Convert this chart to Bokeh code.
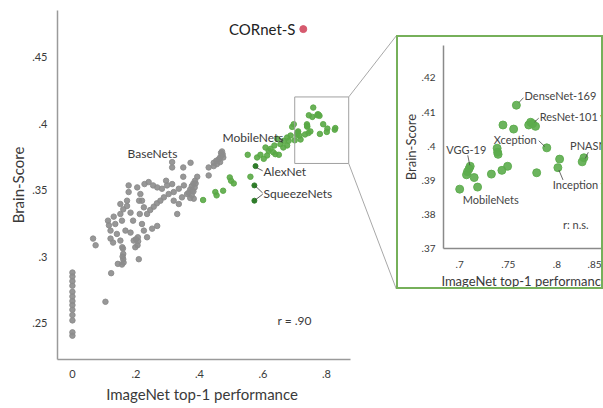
from bokeh.plotting import figure
from bokeh.layouts import row, column
from bokeh.models import Spacer, FixedTicker, Range1d
from bokeh.embed import file_html
from bokeh.resources import INLINE
from bokeh.core.properties import value

# ---------------- data ----------------
base_x = [0, 0, 0, 0, 0, 0, 0, 0, 0, 0, 0, 0, 0,
          0.104, 0.122, 0.143, 0.156, 0.16, 0.16, 0.159, 0.161, 0.158, 0.209,
          0.205, 0.207, 0.206, 0.2, 0.065, 0.073, 0.112, 0.115, 0.12, 0.13, 0.135, 0.14,
          0.151, 0.157, 0.177, 0.177, 0.172, 0.172, 0.183, 0.191, 0.167, 0.183, 0.193, 0.198,
          0.151, 0.156, 0.204, 0.214, 0.219, 0.225, 0.227, 0.24, 0.254, 0.21, 0.212,
          0.219, 0.225, 0.235, 0.251, 0.267, 0.235, 0.245, 0.256, 0.266, 0.277,
          0.288, 0.303, 0.319, 0.335, 0.351, 0.267, 0.282, 0.298, 0.314, 0.295,
          0.314, 0.314, 0.349, 0.372, 0.33, 0.319, 0.335, 0.345, 0.361, 0.377, 0.382,
          0.366, 0.371, 0.376, 0.381, 0.386, 0.376, 0.371, 0.381, 0.385, 0.388,
          0.349, 0.393, 0.429, 0.429, 0.445, 0.453, 0.46, 0.465, 0.47, 0.473, 0.475,
          0.465, 0.455, 0.468, 0.471, 0.445, 0.151, 0.16, 0.12, 0.128]
base_y = [0.288, 0.285, 0.2815, 0.278, 0.2735, 0.27, 0.2665, 0.2635, 0.26, 0.256, 0.252, 0.243, 0.2405,
          0.266, 0.2875, 0.2945, 0.294, 0.302, 0.298, 0.306, 0.2955, 0.3, 0.298,
          0.3085, 0.3115, 0.3145, 0.313, 0.3135, 0.3085, 0.327, 0.3235, 0.3195, 0.33, 0.3245, 0.317,
          0.312, 0.307, 0.3535, 0.3485, 0.342, 0.338, 0.333, 0.327, 0.3195, 0.318, 0.312, 0.307,
          0.332, 0.327, 0.352, 0.347, 0.342, 0.337, 0.3545, 0.356, 0.3535, 0.342, 0.332,
          0.3245, 0.3195, 0.3145, 0.321, 0.323, 0.332, 0.335, 0.3375, 0.34, 0.342,
          0.3445, 0.347, 0.3485, 0.351, 0.3535, 0.352, 0.351, 0.3535, 0.3545, 0.357,
          0.371, 0.367, 0.367, 0.3705, 0.332, 0.342, 0.3395, 0.3445, 0.347, 0.3495, 0.3435,
          0.348, 0.3505, 0.353, 0.355, 0.357, 0.346, 0.344, 0.349, 0.352, 0.355,
          0.36, 0.36, 0.367, 0.361, 0.3705, 0.372, 0.373, 0.3745, 0.376, 0.377, 0.3745,
          0.371, 0.3695, 0.378, 0.379, 0.368, 0.3395, 0.3355, 0.3135, 0.3105]

green_x = [0.4115, 0.45, 0.454, 0.4745, 0.4955, 0.4995, 0.508, 0.552, 0.5605,
           0.5815, 0.592, 0.6025, 0.613, 0.608, 0.618, 0.624, 0.632, 0.639, 0.65,
           0.636, 0.655, 0.664, 0.676, 0.645, 0.666, 0.676, 0.687, 0.692, 0.697, 0.681]
green_y = [0.3425, 0.3485, 0.346, 0.3495, 0.3595, 0.357, 0.355, 0.3765, 0.36,
           0.3745, 0.3765, 0.3735, 0.376, 0.382, 0.3795, 0.381, 0.3785, 0.377, 0.3765,
           0.3835, 0.3845, 0.382, 0.3835, 0.3885, 0.387, 0.3895, 0.391, 0.3975, 0.3995, 0.387]

# labelled models (AlexNet, SqueezeNets)
named_x = [0.5765, 0.573, 0.573]
named_y = [0.368, 0.3535, 0.342]

# top models shown in the zoomed panel
top_x = [0.7583, 0.7445, 0.7555, 0.771, 0.773, 0.775, 0.778, 0.7896, 0.7385, 0.739, 0.7395,
         0.8028, 0.801, 0.8278, 0.826, 0.7792, 0.7493, 0.7434, 0.7326, 0.7108, 0.7097,
         0.708, 0.707, 0.7149, 0.7184, 0.700]
top_y = [0.412, 0.4062, 0.405, 0.4062, 0.407, 0.4066, 0.4058, 0.3995, 0.3994, 0.3982, 0.3976,
         0.3962, 0.3937, 0.3966, 0.3954, 0.3922, 0.3941, 0.3929, 0.3918, 0.3941, 0.3934,
         0.3925, 0.3916, 0.3908, 0.388, 0.3874]

cornet_x = [0.727]
cornet_y = [0.471]

main_xticks = [0, 0.2, 0.4, 0.6, 0.8]
main_xlabels = ["0", ".2", ".4", ".6", ".8"]
main_yticks = [0.25, 0.3, 0.35, 0.4, 0.45]
main_ylabels = [".25", ".3", ".35", ".4", ".45"]
inset_xticks = [0.7, 0.75, 0.8, 0.85]
inset_xlabels = [".7", ".75", ".8", ".85"]
inset_yticks = [0.37, 0.38, 0.39, 0.4, 0.41, 0.42]
inset_ylabels = [".37", ".38", ".39", ".4", ".41", ".42"]

zoom_box = (0.7, 0.87, 0.37, 0.42)

# ---------------- layout ----------------
FONT = "Lato"
H = 408
MAIN_W = 396
ML, MT, MB = 57, 10, 49
X0, X1 = -0.047, 1.0205
Y0, Y1 = 0.2226, 0.485
INSET_TOP, INSET_H, INSET_W = 35, 254, 207

GRAY = "#8c8c8c"
GREEN = "#5aa846"
TXT = "#3a3a3a"
NBSP = "\u00a0"


def style_axes(fig, tick_size, label_size, line_color):
    for ax in fig.axis:
        ax.axis_line_color = line_color
        ax.axis_line_width = 1.5
        ax.major_tick_line_color = None
        ax.minor_tick_line_color = None
        ax.major_tick_out = 0
        ax.major_tick_in = 0
        ax.minor_tick_out = 0
        ax.minor_tick_in = 0
        ax.major_label_text_font = FONT
        ax.major_label_text_font_size = tick_size
        ax.major_label_text_color = TXT
        ax.axis_label_text_font = FONT
        ax.axis_label_text_font_size = label_size
        ax.axis_label_text_font_style = "normal"
        ax.axis_label_text_color = TXT


p = figure(width=MAIN_W, height=H, x_range=Range1d(X0, X1), y_range=Range1d(Y0, Y1),
           output_backend="svg", toolbar_location=None,
           min_border_left=ML, min_border_right=0, min_border_top=MT, min_border_bottom=MB)
p.outline_line_color = None
p.grid.visible = False
p.xaxis.bounds = (X0, 0.876)
p.xaxis.ticker = FixedTicker(ticks=main_xticks)
p.xaxis.major_label_overrides = dict(zip(main_xticks, main_xlabels))
p.yaxis.ticker = FixedTicker(ticks=main_yticks)
p.yaxis.major_label_overrides = dict(zip(main_yticks, main_ylabels))
style_axes(p, "11px", "15px", "#9a9a9a")
# trailing no-break spaces keep the title centred under the drawn part of the axis
p.xaxis.axis_label = "ImageNet top-1 performance" + NBSP * 13
p.yaxis.axis_label = "Brain-Score"
p.xaxis.major_label_standoff = 10
p.xaxis.axis_label_standoff = 4
p.yaxis.major_label_standoff = 10
p.yaxis.axis_label_standoff = 2

p.scatter(base_x, base_y, size=5.5, color=GRAY, alpha=0.9)
p.scatter(green_x + top_x, green_y + top_y, size=5.5, color=GREEN, alpha=0.9)
p.scatter(named_x, named_y, size=5, color="#2f7d2a")
p.scatter(cornet_x, cornet_y, size=7, color="#d65a6e")

# zoom box and connectors to the inset panel
bx0, bx1, by0, by1 = zoom_box
p.quad(left=[bx0], right=[bx1], bottom=[by0], top=[by1], fill_color=None,
       line_color="#a0a0a0", line_width=1)
frame_h = H - MT - MB
per_px = (Y1 - Y0) / frame_h
inset_top_y = Y1 - (INSET_TOP - MT) * per_px
inset_bot_y = Y1 - (INSET_TOP + INSET_H - MT) * per_px
p.segment(x0=[bx1, bx1], y0=[by1, by0], x1=[X1, X1], y1=[inset_top_y, inset_bot_y],
          line_color="#a8a8a8", line_width=1)

# labels main
p.text(x=[0.252], y=[0.3774], text=["BaseNets"], text_font=value(FONT),
       text_font_size=value("12px"), text_color=TXT, text_align="center", text_baseline="middle")
p.text(x=[0.4724, 0.6016, 0.6016, 0.6457], y=[0.3895, 0.3639, 0.3474, 0.2519],
       text=["MobileNets", "AlexNet", "SqueezeNets", "r = .90"], text_font=value(FONT),
       text_font_size=value("12px"), text_color=TXT, text_align="left", text_baseline="middle")
p.text(x=[0.7024], y=[0.4714], text=["CORnet-S"], text_font=value(FONT),
       text_font_size=value("15px"), text_color="#222222", text_align="right", text_baseline="middle")
p.segment(x0=[0.58, 0.577, 0.577, 0.653], y0=[0.3668, 0.3528, 0.3428, 0.3888],
          x1=[0.599, 0.599, 0.599, 0.661], y1=[0.3645, 0.3478, 0.3468, 0.3855],
          line_color="#333333", line_width=0.8)

# ---------------- inset ----------------
IL, IT, IB = 45, 8, 39
IX0 = 0.7 - (459 - (396 + IL + 2)) / 960.0
q = figure(width=INSET_W, height=INSET_H, x_range=Range1d(IX0, 0.85), y_range=Range1d(0.37, 0.4295),
           output_backend="svg", toolbar_location=None,
           min_border_left=IL, min_border_right=0, min_border_top=IT, min_border_bottom=IB,
           styles={"border": "2px solid #76b05a", "box-sizing": "border-box"})
q.outline_line_color = None
q.grid.visible = False
q.xaxis.ticker = FixedTicker(ticks=inset_xticks)
q.xaxis.major_label_overrides = dict(zip(inset_xticks, inset_xlabels))
q.yaxis.ticker = FixedTicker(ticks=inset_yticks)
q.yaxis.major_label_overrides = dict(zip(inset_yticks, inset_ylabels))
style_axes(q, "10px", "13px", "#8a8a8a")
q.xaxis.axis_label = "ImageNet top-1 performance"
q.yaxis.axis_label = "Brain-Score"
q.xaxis.major_label_standoff = 12
q.xaxis.axis_label_standoff = 2
q.yaxis.major_label_standoff = 8
q.yaxis.axis_label_standoff = 0

q.scatter(top_x, top_y, size=8, color="#5cac4c", alpha=0.9)
q.text(x=[0.7667, 0.7823, 0.8135, 0.7958, 0.7031, 0.8063],
       y=[0.4148, 0.4088, 0.4002, 0.3887, 0.3844, 0.3769],
       text=["DenseNet-169", "ResNet-101 v2", "PNASNet", "Inception v3", "MobileNets", "r: n.s."],
       text_font=value(FONT), text_font_size=value("11px"), text_color="#444444",
       text_align="left", text_baseline="middle")
q.text(x=[0.7792], y=[0.4019], text=["Xception"], text_font=value(FONT),
       text_font_size=value("11px"), text_color="#444444", text_align="right", text_baseline="middle")
q.text(x=[0.7068], y=[0.399], text=["VGG-19"], text_font=value(FONT),
       text_font_size=value("11px"), text_color="#444444", text_align="center", text_baseline="middle")
q.segment(x0=[0.761, 0.7771, 0.7813, 0.7083, 0.8323, 0.802],
          y0=[0.4128, 0.4071, 0.4016, 0.3973, 0.3982, 0.393],
          x1=[0.7656, 0.7813, 0.7875, 0.7104, 0.8292, 0.8063],
          y1=[0.4142, 0.4082, 0.3999, 0.3944, 0.3964, 0.3901],
          line_color="#444444", line_width=0.8)

right = column(Spacer(width=INSET_W, height=INSET_TOP), q)
layout = row(p, right)

open("out.html", "w").write(file_html(layout, INLINE))
